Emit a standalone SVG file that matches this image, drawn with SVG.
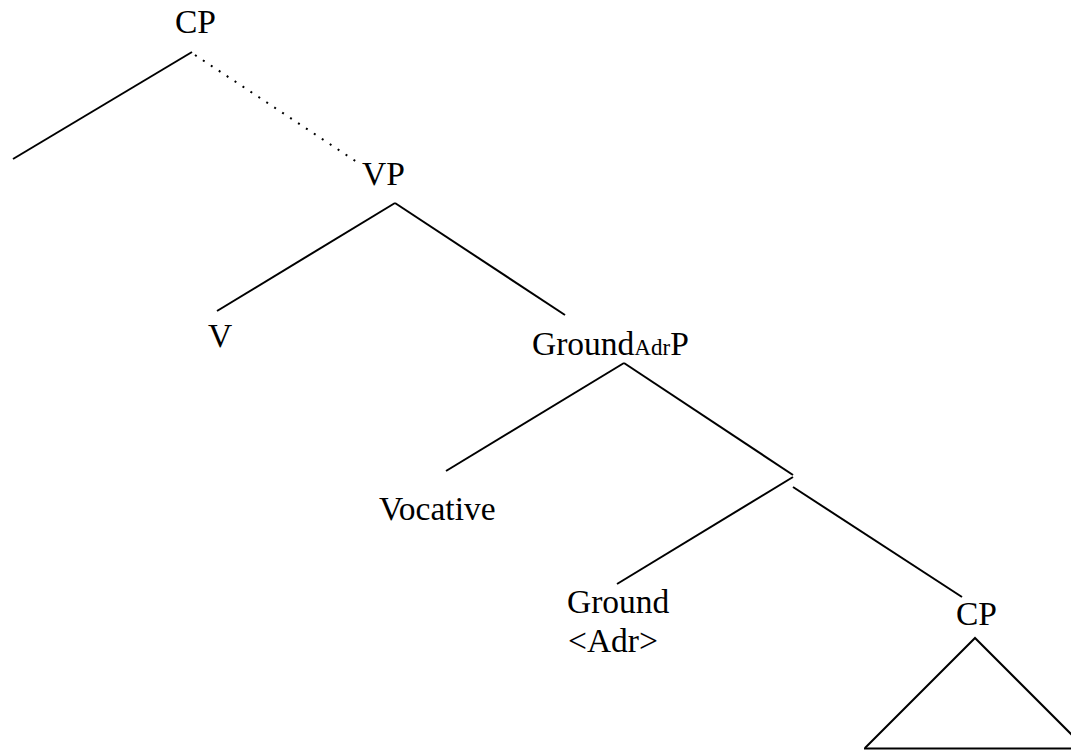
<svg xmlns="http://www.w3.org/2000/svg" width="1071" height="750" viewBox="0 0 1071 750">
<style>
text{font-family:'Liberation Serif','Times New Roman',serif;font-size:33.5px;fill:#000}
.sub{font-size:23px}
.e{stroke:#000;stroke-width:2;fill:none;stroke-linecap:butt}
.dot{stroke-dasharray:2 7.5}
</style>
<rect width="1071" height="750" fill="#fff"/>
<g id="connectors">
<line class="e" x1="192" y1="52" x2="13" y2="159"/>
<line class="e dot" x1="195" y1="55" x2="357" y2="162"/>
<line class="e" x1="395" y1="203" x2="217" y2="311"/>
<line class="e" x1="395" y1="203" x2="565" y2="315"/>
<line class="e" x1="624" y1="363" x2="446" y2="471"/>
<line class="e" x1="624" y1="363" x2="793" y2="475"/>
<line class="e" x1="793" y1="477" x2="617" y2="584"/>
<line class="e" x1="793" y1="487" x2="962" y2="597"/>
</g>
<g id="CP_top"><text x="175" y="33">CP</text></g>
<g id="VP"><text x="362" y="185">VP</text></g>
<g id="V"><text x="208" y="347">V</text></g>
<g id="GroundAdrP"><text x="532" y="355">Ground<tspan class="sub">Adr</tspan>P</text></g>
<g id="Vocative"><text x="379" y="520">Vocative</text></g>
<g id="Ground"><text x="567" y="613">Ground</text><text x="568" y="652">&lt;Adr&gt;</text></g>
<g id="CP_bottom"><text x="956" y="625">CP</text>
<polyline class="e" points="865,748 975,638 1087,750"/>
<line class="e" x1="864" y1="748.5" x2="1071" y2="748.5"/>
</g>
</svg>
